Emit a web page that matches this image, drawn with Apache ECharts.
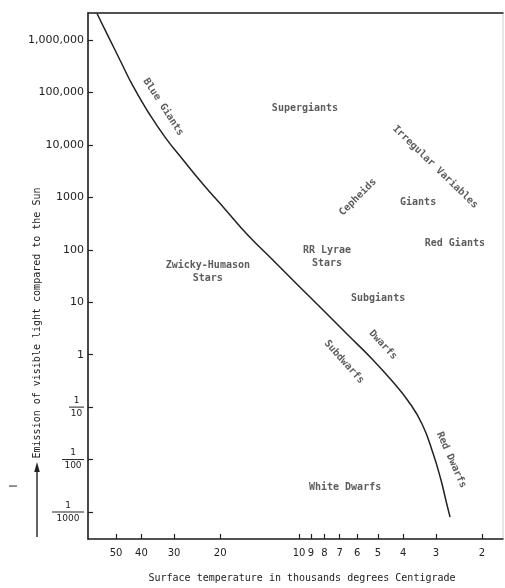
<!DOCTYPE html>
<html><head><meta charset="utf-8">
<script src="https://cdn.jsdelivr.net/npm/echarts@6/dist/echarts.min.js"></script>
<style>html,body{margin:0;padding:0;background:#fff}#c{width:505px;height:588px}</style>
</head><body><div id="c"></div>
<script>
// Temperature axis ticks (thousands of degrees C)
const tempTicks = [50, 40, 30, 20, 10, 9, 8, 7, 6, 5, 4, 3, 2];
// Luminosity ticks (relative to the Sun)
const lumTicks = [0.001, 0.01, 0.1, 1, 10, 100, 1000, 10000, 100000, 1000000];
const lumTickLabels = ['1/1000', '1/100', '1/10', '1', '10', '100', '1000', '10,000', '100,000', '1,000,000'];

// Main sequence curve (temperature in thousands of degrees, luminosity relative to the Sun)
const seqTemp = [59.1, 53.6, 48.3, 43.1, 37.7, 32.5, 27.7, 23.3, 19.2, 15.7, 12.7, 10.2, 8.17, 6.56, 5.26, 4.41, 3.83, 3.39, 3.08, 2.87, 2.745, 2.65];
const seqLum  = [3200000, 1190000, 416000, 133000, 42400, 14100, 5150, 1800, 599, 191, 66.6, 22.2, 7.42, 2.47, 0.826, 0.314, 0.131, 0.0476, 0.0133, 0.00407, 0.00162, 0.00080];

// Region labels
const regionNames = ['Blue Giants', 'Supergiants', 'Irregular Variables', 'Cepheids', 'Giants', 'Red Giants',
  'RR Lyrae\nStars', 'Zwicky-Humason\nStars', 'Subgiants', 'Dwarfs', 'Subdwarfs', 'Red Dwarfs', 'White Dwarfs'];
const regionTemp = [33.0, 9.49, 3.02, 5.96, 3.51, 2.54, 7.82, 22.3, 4.99, 4.78, 6.73, 2.62, 6.67];
const regionLum  = [52700, 50500, 3790, 1010, 815, 135, 72.8, 37.7, 12.0, 1.53, 0.724, 0.0098, 0.0030];
const regionAngle = [-57, 0, -44, 45, 0, 0, 0, 0, 0, -47, -48, -66, 0];

const FONT = 'DejaVu Sans';
const MONO = 'DejaVu Sans Mono';
const INK = '#222';
const lg = Math.log10;

const rich = {
  n: {align: 'center', fontSize: 9, lineHeight: 10, color: INK, fontFamily: FONT},
  d: {align: 'center', fontSize: 9, lineHeight: 10, color: INK, fontFamily: FONT},
  l10: {align: 'center', width: 15, height: 1, lineHeight: 3, backgroundColor: INK},
  l100: {align: 'center', width: 22, height: 1, lineHeight: 3, backgroundColor: INK},
  l1000: {align: 'center', width: 32, height: 1, lineHeight: 3, backgroundColor: INK}
};

function nearest(ticks, v) {
  let best = 0, bd = 1e9;
  ticks.forEach((t, i) => { const d = Math.abs(lg(t) - v); if (d < bd) { bd = d; best = i; } });
  return best;
}
function lumLabel(v) {
  const s = lumTickLabels[nearest(lumTicks, v)];
  if (s.indexOf('/') >= 0) {
    const p = s.split('/');
    return '{n|' + p[0] + '}\n{l' + p[1] + '|}\n{d|' + p[1] + '}';
  }
  return s;
}

const chart = echarts.init(document.getElementById('c'), null, {renderer: 'canvas'});
chart.setOption({
  backgroundColor: '#fff',
  animation: false,
  grid: {left: 88, top: 13, right: 2, bottom: 49, show: true, borderColor: '#cfcfcf', borderWidth: 1},
  xAxis: [{
    type: 'value', inverse: true, min: 0.221, max: 1.806,
    axisLine: {show: true, onZero: false, lineStyle: {color: INK, width: 1.6}},
    axisTick: {show: true, inside: true, length: 5, customValues: tempTicks.map(lg), lineStyle: {color: INK, width: 1.2}},
    axisLabel: {show: true, customValues: tempTicks.map(lg), margin: 9, fontSize: 10, color: INK, fontFamily: FONT,
      formatter: v => String(tempTicks[nearest(tempTicks, v)])},
    splitLine: {show: false}
  }, {
    type: 'value', position: 'top', inverse: true, min: 0.221, max: 1.806,
    axisLine: {show: true, onZero: false, lineStyle: {color: INK, width: 1.6}},
    axisTick: {show: false}, axisLabel: {show: false}, splitLine: {show: false}
  }],
  yAxis: {
    type: 'value', min: -3.515, max: 6.515,
    axisLine: {show: true, onZero: false, lineStyle: {color: INK, width: 1.6}},
    axisTick: {show: true, inside: true, length: 5, customValues: lumTicks.map(lg), lineStyle: {color: INK, width: 1.2}},
    axisLabel: {show: true, customValues: lumTicks.map(lg), margin: 4, fontSize: 11, color: INK, fontFamily: FONT,
      formatter: lumLabel, rich: rich},
    splitLine: {show: false}
  },
  series: [{
    type: 'line',
    data: seqTemp.map((t, i) => [lg(t), lg(seqLum[i])]),
    smooth: 0.5,
    symbol: 'none',
    lineStyle: {color: INK, width: 1.5},
    silent: true
  }, {
    type: 'scatter',
    symbolSize: 1,
    itemStyle: {color: 'rgba(0,0,0,0)'},
    data: regionNames.map((n, i) => ({
      value: [lg(regionTemp[i]), lg(regionLum[i])],
      name: n,
      label: {rotate: regionAngle[i]}
    })),
    label: {show: true, position: 'inside', formatter: p => p.name, fontSize: 10, fontWeight: 'bold', color: '#333', fontFamily: MONO, lineHeight: 13, align: 'center', verticalAlign: 'middle'},
    silent: true
  }],
  graphic: [
    {type: 'text', x: 37, y: 323, rotation: Math.PI / 2,
      style: {text: 'Emission of visible light compared to the Sun', fontSize: 10, fontFamily: MONO, fill: INK, align: 'center', verticalAlign: 'middle'}},
    {type: 'text', x: 302, y: 578,
      style: {text: 'Surface temperature in thousands degrees Centigrade', fontSize: 10, fontFamily: MONO, fill: INK, align: 'center', verticalAlign: 'middle'}},
    {type: 'line', shape: {x1: 37, y1: 537, x2: 37, y2: 470}, style: {stroke: INK, lineWidth: 1.4}},
    {type: 'polygon', shape: {points: [[37, 462], [34.2, 472], [39.8, 472]]}, style: {fill: INK}},
    {type: 'text', x: 14, y: 486, rotation: Math.PI / 2,
      style: {text: 'I', fontSize: 10, fontFamily: FONT, fill: INK, align: 'center', verticalAlign: 'middle'}}
  ]
});
</script>
</body></html>
